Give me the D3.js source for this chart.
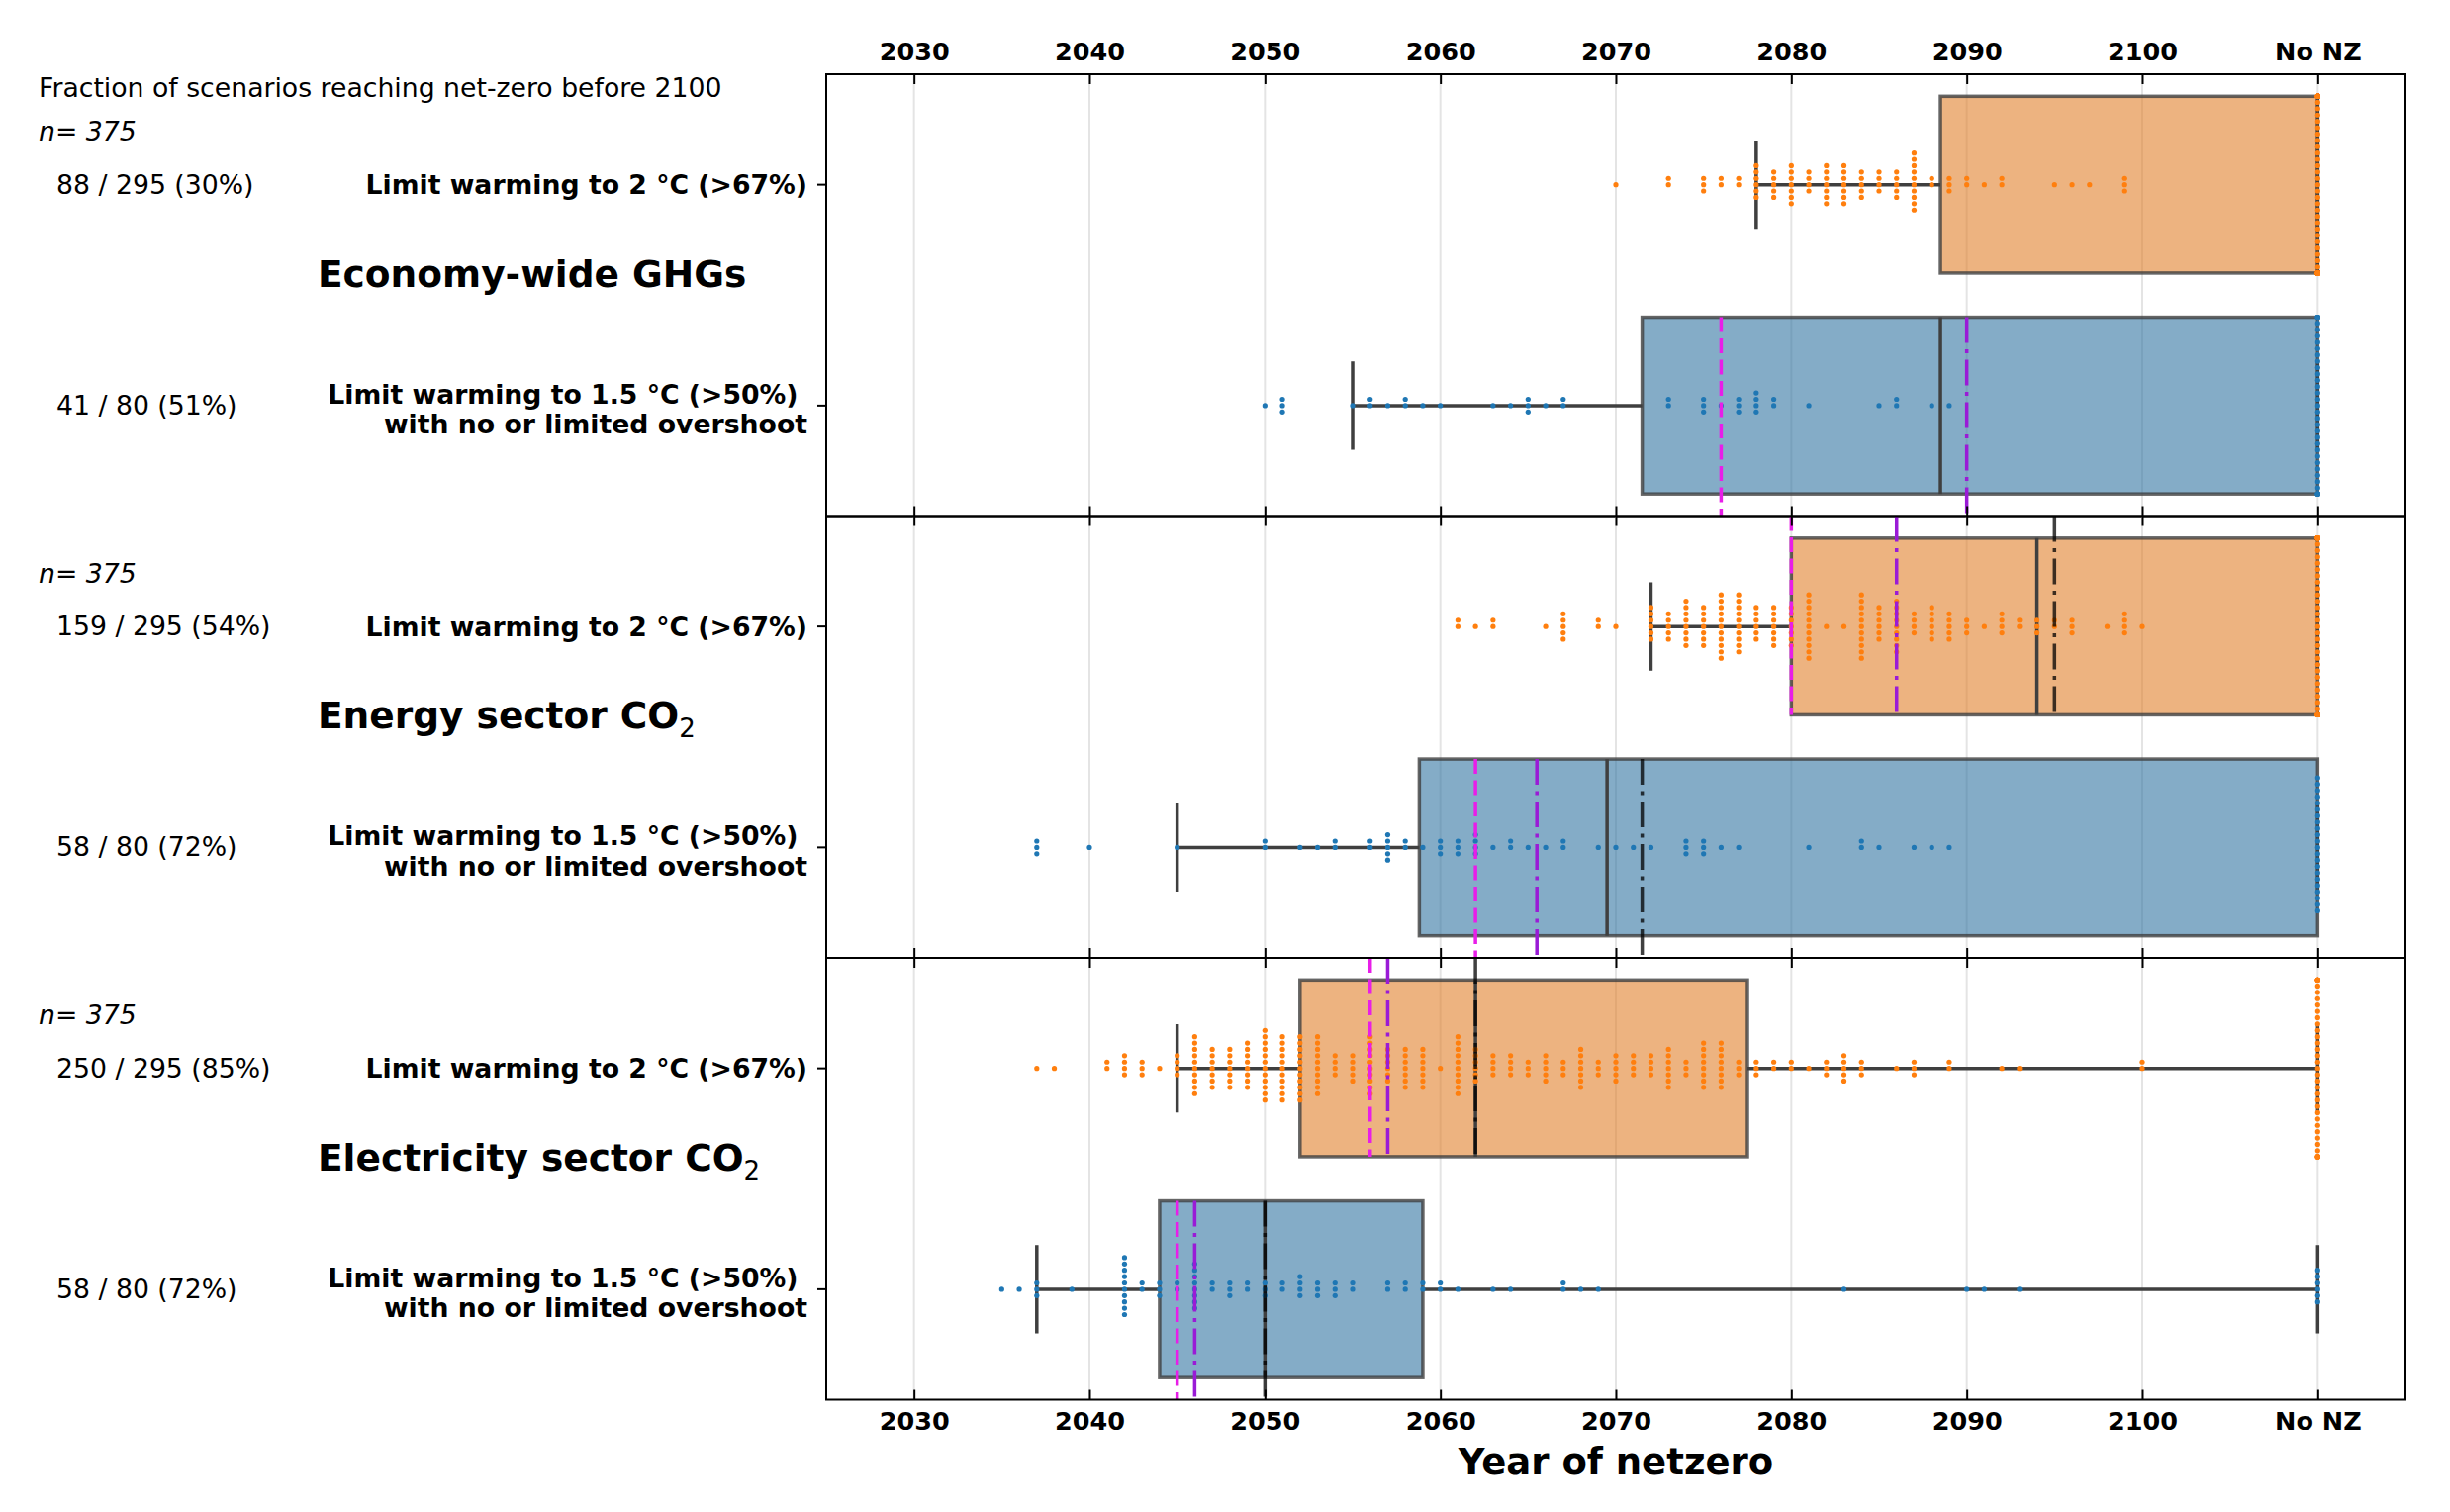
<!DOCTYPE html>
<html><head><meta charset="utf-8">
<script src="https://cdn.jsdelivr.net/npm/d3@7"></script>
<style>
body{margin:0;background:#fff}
svg{display:block}
text{font-family:"DejaVu Sans",sans-serif;fill:#000}
</style></head>
<body><svg id="chart" width="2476" height="1528"></svg>
<script>
// ---------------- DATA ----------------
const headerText = "Fraction of scenarios reaching net-zero before 2100";
const nText = "n= 375";
const sectors = ["Economy-wide GHGs", "Energy sector CO", "Electricity sector CO"];
const sectorSub = ["", "2", "2"];
const scenarios = ["2C", "1.5C"];
const scenarioLines = [["Limit warming to 2 °C (>67%)"], ["Limit warming to 1.5 °C (>50%)", "with no or limited overshoot"]];
const fractionText = [["88 / 295 (30%)", "41 / 80 (51%)"], ["159 / 295 (54%)", "58 / 80 (72%)"], ["250 / 295 (85%)", "58 / 80 (72%)"]];
const xTickValues = [2030, 2040, 2050, 2060, 2070, 2080, 2090, 2100, 2110];
const xTickLabels = ["2030", "2040", "2050", "2060", "2070", "2080", "2090", "2100", "No NZ"];
const xLabel = "Year of netzero";

// box statistics [sector][scenario]
const boxQ1 = [[2088.5, 2071.5], [2080, 2058.8], [2052, 2044]];
const boxMedian = [[2110, 2088.5], [2094, 2069.5], [2062, 2050]];
const boxQ3 = [[2110, 2110], [2110, 2110], [2077.5, 2059]];
const whiskerLo = [[2078, 2055], [2072, 2045], [2045, 2037]];
const whiskerHi = [[2110, 2110], [2110, 2110], [2110, 2110]];
// reference lines
const magentaLine = [[null, 2076], [2080, 2062], [2056, 2045]];
const purpleLine = [[null, 2090], [2086, 2065.5], [2057, 2046]];
const blackLine = [[null, null], [2095, 2071.5], [2062, 2050]];

// scenario net-zero years (year, count); 2110 = No NZ
const econ2Years = [2070,2073,2075,2076,2077,2078,2079,2080,2081,2082,2083,2084,2085,2086,2087,2088,2089,2090,2091,2092,2095,2096,2097,2099,2110];
const econ2Counts = [1,2,3,2,2,6,5,7,4,7,7,5,4,5,10,2,3,2,1,2,1,1,1,3,207];
const econ15Years = [2050,2051,2055,2056,2057,2058,2059,2060,2063,2064,2065,2066,2067,2073,2075,2076,2077,2078,2079,2081,2085,2086,2088,2089,2110];
const econ15Counts = [1,3,1,2,1,2,1,1,1,1,3,1,2,2,3,1,3,4,2,1,1,2,1,1,39];
const energy2Years = [2061,2062,2063,2066,2067,2069,2070,2072,2073,2074,2075,2076,2077,2078,2079,2080,2081,2082,2083,2084,2085,2086,2087,2088,2089,2090,2091,2092,2093,2094,2095,2096,2098,2099,2100,2110];
const energy2Counts = [2,1,2,1,5,2,1,6,5,8,7,11,10,6,7,7,11,1,1,11,6,9,4,6,5,3,1,4,2,3,2,3,1,4,1,136];
const energy15Years = [2037,2040,2045,2050,2052,2053,2054,2056,2057,2058,2059,2060,2061,2062,2063,2064,2065,2066,2067,2069,2070,2071,2072,2074,2075,2076,2077,2081,2084,2085,2087,2088,2089,2110];
const energy15Counts = [3,1,1,2,1,1,2,2,5,2,1,3,3,4,1,2,1,1,2,1,1,1,1,3,3,1,1,1,2,1,1,1,1,22];
const elec2Years = [2037,2038,2041,2042,2043,2044,2045,2046,2047,2048,2049,2050,2051,2052,2053,2054,2055,2056,2057,2058,2059,2060,2061,2062,2063,2064,2065,2066,2067,2068,2069,2070,2071,2072,2073,2074,2075,2076,2077,2078,2079,2080,2081,2082,2083,2084,2086,2087,2089,2092,2093,2100,2110];
const elec2Counts = [1,1,2,4,3,1,4,10,7,7,8,12,11,11,10,4,5,10,6,7,7,1,10,6,4,4,3,5,3,7,3,5,4,4,7,3,8,8,3,3,2,2,1,3,5,3,1,3,2,1,1,2,45];
const elec15Years = [2035,2036,2037,2039,2042,2043,2044,2045,2046,2047,2048,2049,2050,2051,2052,2053,2054,2055,2057,2058,2059,2060,2061,2063,2064,2067,2068,2069,2083,2090,2091,2093,2110];
const elec15Counts = [1,1,3,1,10,2,3,2,8,2,3,2,3,2,4,3,3,2,2,2,2,2,1,1,1,2,1,1,1,1,1,1,6];

const swarmData = [
  [[econ2Years, econ2Counts], [econ15Years, econ15Counts]],
  [[energy2Years, energy2Counts], [energy15Years, energy15Counts]],
  [[elec2Years, elec2Counts], [elec15Years, elec15Counts]]
];

// ---------------- LAYOUT / STYLE ----------------
const plotLeft = 835, plotRight = 2431, panelTop0 = 75, panelH = 446.5;
const boxFill = ["#e1812c", "#3274a1"];
const dotFill = ["#ff7f0e", "#1f77b4"];
const lineGray = "#3f3f3f";
const dotR = 2.6, dotStep = 6.4;
const labelSize = "26.7px";

const svg = d3.select("#chart");
const x = d3.scaleLinear().domain([2025, 2115]).range([plotLeft, plotRight]);
const labelOf = v => xTickLabels[xTickValues.indexOf(v)];

svg.append("text").attr("x", 39).attr("y", 98).style("font-size", labelSize).text(headerText);

sectors.forEach((sector, i) => {
  const top = panelTop0 + i * panelH;
  const bottom = top + panelH;
  const y = d3.scaleBand().domain(scenarios).range([top, bottom]).padding(0);
  const bw = y.bandwidth();
  const boxH = 0.8 * bw;
  const g = svg.append("g");

  // grid
  g.selectAll("line.grid").data(xTickValues).join("line")
    .attr("x1", d => x(d)).attr("x2", d => x(d))
    .attr("y1", top).attr("y2", bottom)
    .attr("stroke", "#e4e4e4").attr("stroke-width", 2);

  scenarios.forEach((sc, r) => {
    const c = y(sc) + bw / 2;
    const q1 = boxQ1[i][r], q3 = boxQ3[i][r], med = boxMedian[i][r];
    const lo = whiskerLo[i][r], hi = whiskerHi[i][r];
    // box
    g.append("rect")
      .attr("x", x(q1)).attr("y", c - boxH / 2)
      .attr("width", x(q3) - x(q1)).attr("height", boxH)
      .attr("fill", boxFill[r]).attr("fill-opacity", 0.6)
      .attr("stroke", lineGray).attr("stroke-opacity", 0.8).attr("stroke-width", 3.5);
    // whiskers
    [[lo, q1], [q3, hi]].forEach(([a, b]) => {
      if (a !== b) g.append("line").attr("x1", x(a)).attr("x2", x(b)).attr("y1", c).attr("y2", c)
        .attr("stroke", lineGray).attr("stroke-width", 3.5);
    });
    // caps
    [lo, hi].forEach(v => {
      g.append("line").attr("x1", x(v)).attr("x2", x(v)).attr("y1", c - boxH / 4).attr("y2", c + boxH / 4)
        .attr("stroke", lineGray).attr("stroke-width", 3.5);
    });
    // median
    g.append("line").attr("x1", x(med)).attr("x2", x(med)).attr("y1", c - boxH / 2).attr("y2", c + boxH / 2)
      .attr("stroke", lineGray).attr("stroke-width", 3.5);

    // swarm dots
    const [yrs, cnts] = swarmData[i][r];
    const pts = [];
    yrs.forEach((yr, k) => {
      for (let j = 0; j < cnts[k]; j++) {
        const m = Math.ceil(j / 2);
        let off = (j % 2 === 1 ? -1 : 1) * m * dotStep;
        off = Math.max(-boxH / 2, Math.min(boxH / 2, off));
        pts.push({ yr, off });
      }
    });
    g.selectAll(null).data(pts).join("circle")
      .attr("cx", d => x(d.yr)).attr("cy", d => c + d.off).attr("r", dotR)
      .attr("fill", dotFill[r]);

    // reference lines
    const y1 = r === 0 ? top : c - boxH / 2;
    const y2 = r === 0 ? c + boxH / 2 : bottom;
    const refs = [
      [magentaLine[i][r], "#e81ee8", "15,6.5", 1],
      [purpleLine[i][r], "#9a1bd6", "26,6.5,4,6.5", 1],
      [blackLine[i][r], "#000000", "26,6.5,4,6.5", 0.75]
    ];
    refs.forEach(([v, col, dash, op]) => {
      if (v === null) return;
      g.append("line").attr("x1", x(v)).attr("x2", x(v)).attr("y1", y1).attr("y2", y2)
        .attr("stroke", col).attr("stroke-width", 3.5).attr("stroke-dasharray", dash)
        .attr("stroke-opacity", op);
    });

    // labels
    svg.append("text").attr("x", 57).attr("y", c + 9).style("font-size", labelSize).text(fractionText[i][r]);
    if (r === 0) {
      svg.append("text").attr("x", 816).attr("y", c + 9.5).attr("text-anchor", "end")
        .style("font-size", labelSize).style("font-weight", "bold").text(scenarioLines[r][0]);
    } else {
      svg.append("text").attr("x", 806.5).attr("y", c - 2).attr("text-anchor", "end")
        .style("font-size", labelSize).style("font-weight", "bold").text(scenarioLines[r][0]);
      svg.append("text").attr("x", 816).attr("y", c + 28.5).attr("text-anchor", "end")
        .style("font-size", labelSize).style("font-weight", "bold").text(scenarioLines[r][1]);
    }
  });

  // panel frame
  g.append("rect").attr("x", plotLeft).attr("y", top).attr("width", plotRight - plotLeft).attr("height", panelH)
    .attr("fill", "none").attr("stroke", "#000").attr("stroke-width", 2);

  // axes
  const topAxis = d3.axisTop(x).tickValues(xTickValues).tickSizeInner(-10).tickSizeOuter(0).tickPadding(14)
    .tickFormat(i === 0 ? labelOf : () => "");
  const botAxis = d3.axisBottom(x).tickValues(xTickValues).tickSizeInner(-10).tickSizeOuter(0).tickPadding(12)
    .tickFormat(i === sectors.length - 1 ? labelOf : () => "");
  [[topAxis, top], [botAxis, bottom]].forEach(([ax, yy]) => {
    const a = g.append("g").attr("transform", `translate(0,${yy})`).call(ax);
    a.select(".domain").remove();
    a.selectAll(".tick line").attr("stroke", "#000").attr("stroke-width", 2);
    a.selectAll(".tick text").attr("fill", "#000").style("font-size", "25.5px").style("font-weight", "bold")
      .style("font-family", "DejaVu Sans");
  });
  const yAx = g.append("g").attr("transform", `translate(${plotLeft},0)`)
    .call(d3.axisLeft(y).tickSize(9).tickFormat(() => ""));
  yAx.select(".domain").remove();
  yAx.selectAll(".tick line").attr("stroke", "#000").attr("stroke-width", 2);

  // n label
  svg.append("text").attr("x", 39).attr("y", top + 67).style("font-size", labelSize).style("font-style", "italic").text(nText);

  // sector title
  const t = svg.append("text").attr("x", 321).attr("y", top + panelH / 2 - 8.5)
    .style("font-size", "37.5px").style("font-weight", "bold");
  t.append("tspan").text(sector);
  if (sectorSub[i]) t.append("tspan").attr("dy", 9).style("font-size", "26px").style("font-weight", "normal").text(sectorSub[i]);
});

svg.append("text").attr("x", (plotLeft + plotRight) / 2).attr("y", 1490).attr("text-anchor", "middle")
  .style("font-size", "37px").style("font-weight", "bold").text(xLabel);
</script></body></html>
